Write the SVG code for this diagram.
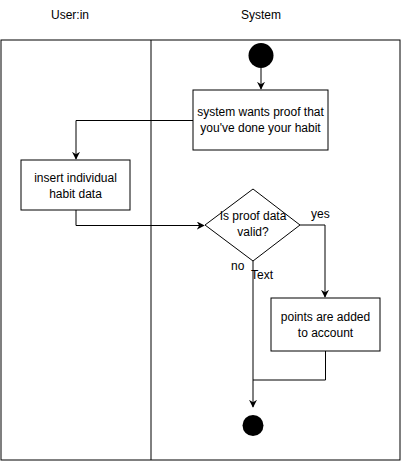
<svg xmlns="http://www.w3.org/2000/svg" width="402" height="461" viewBox="0 0 402 461">
<style>
text{font-family:"Liberation Sans",Arial,sans-serif;font-size:12px;fill:#000}
.c{text-anchor:middle}
.n{fill:#fff;stroke:#000;stroke-width:1}
.e{fill:none;stroke:#000;stroke-width:1}
</style>
<defs>
<marker id="a" viewBox="0 0 10 10" refX="9" refY="5" markerWidth="8" markerHeight="8" markerUnits="userSpaceOnUse" orient="auto">
<path d="M0,0 L10,5 L0,10 L3,5 Z" fill="#000"/>
</marker>
</defs>
<rect width="402" height="461" fill="#fff"/>
<g id="lanes">
<rect x="1" y="40" width="399" height="420" fill="none" stroke="#000"/>
<line x1="151" y1="40" x2="151" y2="460" stroke="#000"/>
<text class="c" x="70" y="19">User:in</text>
<text class="c" x="261" y="19">System</text>
</g>
<g id="connectors">
<path class="e" d="M261,68 V89" marker-end="url(#a)"/>
<path class="e" d="M193,120.5 H76 V159" marker-end="url(#a)"/>
<path class="e" d="M76,210 V225.5 H204" marker-end="url(#a)"/>
<path class="e" d="M300,225 H325 V297" marker-end="url(#a)"/>
<path class="e" d="M253,261 V407" marker-end="url(#a)"/>
<path class="e" d="M325.5,351 V380 H253"/>
<text x="311" y="218">yes</text>
<text x="231" y="270">no</text>
<text x="251" y="279">Text</text>
</g>
<g id="start"><circle cx="261" cy="55.5" r="12.5" fill="#000"/></g>
<g id="proof"><rect class="n" x="193" y="90" width="135" height="60"/>
<text class="c" x="260.5" y="116">system wants proof that</text>
<text class="c" x="260.5" y="132">you've done your habit</text></g>
<g id="insert"><rect class="n" x="21" y="160" width="109" height="50"/>
<text class="c" x="75.5" y="182">insert individual</text>
<text class="c" x="75.5" y="198">habit data</text></g>
<g id="decision"><path class="n" d="M253,189 L300,225 L253,261 L205,225 Z"/>
<text class="c" x="253" y="220">Is proof data</text>
<text class="c" x="253" y="236">valid?</text></g>
<g id="points"><rect class="n" x="271" y="298" width="109" height="53"/>
<text class="c" x="325.5" y="321">points are added</text>
<text class="c" x="325.5" y="337">to account</text></g>
<g id="end"><circle cx="253" cy="425.5" r="10.5" fill="#000"/></g>
</svg>
